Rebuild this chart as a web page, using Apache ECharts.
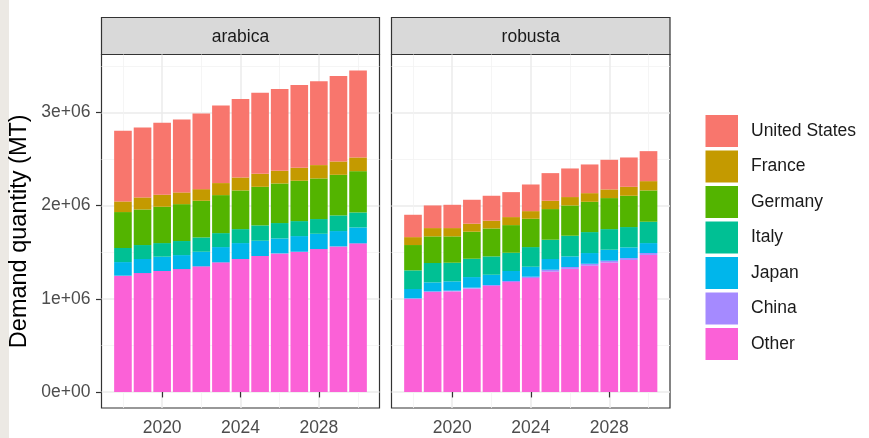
<!DOCTYPE html>
<html>
<head>
<meta charset="utf-8">
<script src="https://cdn.jsdelivr.net/npm/echarts@6/dist/echarts.min.js"></script>
<style>
html,body{margin:0;padding:0;background:#fff;}
#chart{width:869px;height:438px;}
</style>
</head>
<body>
<div id="chart"></div>
<script>
// ---- data (MT) ----
const years = [2018, 2019, 2020, 2021, 2022, 2023, 2024, 2025, 2026, 2027, 2028, 2029, 2030];
const facets = ['arabica', 'robusta'];
const countries = ['United States', 'France', 'Germany', 'Italy', 'Japan', 'China', 'Other']; // legend order
const stackOrder = ['Other', 'China', 'Japan', 'Italy', 'Germany', 'France', 'United States']; // bottom to top
const yTicks = [0, 1000000, 2000000, 3000000];
const yMinorTicks = [500000, 1500000, 2500000, 3500000];
const xTicks = [2020, 2024, 2028];
const xMinorTicks = [2018, 2022, 2026, 2030];

const arabicaUS      = [758000, 751000, 772000, 783000, 812000, 833000, 844000, 869000, 879000, 890000, 901000, 919000, 933000];
const arabicaFrance  = [114000, 129000, 129000, 126000, 125000, 129000, 139000, 140000, 136000, 139000, 143000, 143000, 147000];
const arabicaGermany = [386000, 382000, 390000, 396000, 393000, 408000, 415000, 414000, 425000, 433000, 436000, 436000, 443000];
const arabicaItaly   = [151000, 150000, 146000, 151000, 154000, 150000, 150000, 165000, 165000, 161000, 158000, 168000, 161000];
const arabicaJapan   = [146000, 151000, 154000, 150000, 157000, 164000, 171000, 164000, 161000, 168000, 164000, 165000, 171000];
const arabicaChina   = [0, 0, 0, 0, 0, 0, 0, 0, 0, 0, 0, 0, 0];
const arabicaOther   = [1248000, 1276000, 1298000, 1319000, 1348000, 1391000, 1427000, 1459000, 1487000, 1505000, 1534000, 1562000, 1595000];

const robustaUS      = [240000, 243000, 250000, 257000, 268000, 268000, 286000, 297000, 307000, 308000, 318000, 315000, 322000];
const robustaFrance  = [85000, 89000, 89000, 86000, 83000, 86000, 82000, 89000, 90000, 93000, 93000, 96000, 100000];
const robustaGermany = [272000, 286000, 283000, 290000, 300000, 297000, 304000, 329000, 325000, 325000, 333000, 336000, 336000];
const robustaItaly   = [200000, 208000, 200000, 197000, 197000, 196000, 211000, 207000, 222000, 225000, 221000, 218000, 229000];
const robustaJapan   = [100000, 96000, 100000, 114000, 110000, 107000, 107000, 115000, 114000, 115000, 118000, 115000, 107000];
const robustaChina   = [5000, 8000, 8000, 10000, 10000, 12000, 15000, 20000, 20000, 20000, 20000, 20000, 20000];
const robustaOther   = [1000000, 1072000, 1079000, 1109000, 1138000, 1179000, 1222000, 1292000, 1321000, 1356000, 1389000, 1417000, 1471000];

const colors = {
  'United States': '#F8766D', 'France': '#C49A00', 'Germany': '#53B400',
  'Italy': '#00C094', 'Japan': '#00B6EB', 'China': '#A58AFF', 'Other': '#FB61D7'
};
const values = [
  {'United States': arabicaUS, 'France': arabicaFrance, 'Germany': arabicaGermany, 'Italy': arabicaItaly, 'Japan': arabicaJapan, 'China': arabicaChina, 'Other': arabicaOther},
  {'United States': robustaUS, 'France': robustaFrance, 'Germany': robustaGermany, 'Italy': robustaItaly, 'Japan': robustaJapan, 'China': robustaChina, 'Other': robustaOther}
];

// ---- layout ----
const FONT = 'Liberation Sans, Arial, Helvetica, sans-serif';
const panels = [{left: 101.5, width: 278}, {left: 391.5, width: 278.5}];
const gridTop = 54.5, gridHeight = 353.5;
const xMin = 2016.905, xMax = 2031.095;
const yMin = -172500, yMax = 3622500;

const grids = [];
// panel grids (0,1): background, border, gridlines, labels
panels.forEach(p => grids.push({
  left: p.left, top: gridTop, width: p.width, height: gridHeight,
  show: true, backgroundColor: '#fff', borderColor: '#333', borderWidth: 1.2
}));
// bar grids (2,3): same value range, category band per year
panels.forEach(p => {
  const pxPerYear = p.width / (xMax - xMin);
  grids.push({
    left: p.left + (years[0] - 0.5 - xMin) * pxPerYear,
    width: years.length * pxPerYear,
    top: gridTop, height: gridHeight, show: false
  });
});

const xAxes = [], yAxes = [];
panels.forEach((p, i) => {
  xAxes.push({
    type: 'value', gridIndex: i, min: xMin, max: xMax,
    axisLine: {show: false},
    axisTick: {show: true, customValues: xTicks, length: 5.5, lineStyle: {color: '#333', width: 1.2}},
    axisLabel: {show: true, customValues: xTicks, margin: 11, fontSize: 17.5, color: '#4D4D4D', fontFamily: FONT, formatter: v => String(v)},
    splitLine: {show: true, lineStyle: {color: '#EBEBEB', width: 1.5}}
  });
  xAxes.push({
    type: 'value', gridIndex: i, min: xMin, max: xMax,
    axisLine: {show: false},
    axisTick: {show: false, customValues: xMinorTicks},
    axisLabel: {show: false, customValues: xMinorTicks},
    splitLine: {show: true, lineStyle: {color: '#F2F2F2', width: 0.8}}
  });
  yAxes.push({
    type: 'value', gridIndex: i, min: yMin, max: yMax,
    axisLine: {show: false},
    axisTick: {show: i === 0, customValues: yTicks, length: 5.5, lineStyle: {color: '#333', width: 1.2}},
    axisLabel: {show: i === 0, customValues: yTicks, margin: 11, fontSize: 17.5, color: '#4D4D4D', fontFamily: FONT,
      formatter: v => v === 0 ? '0e+00' : Math.round(v / 1e6) + 'e+06'},
    splitLine: {show: true, lineStyle: {color: '#EBEBEB', width: 1.5}},
    name: i === 0 ? 'Demand quantity (MT)' : '',
    nameLocation: 'middle', nameGap: 70,
    nameTextStyle: {fontSize: 23.5, color: '#000', fontFamily: FONT}
  });
  yAxes.push({
    type: 'value', gridIndex: i, min: yMin, max: yMax,
    axisLine: {show: false},
    axisTick: {show: false, customValues: yMinorTicks},
    axisLabel: {show: false, customValues: yMinorTicks},
    splitLine: {show: true, lineStyle: {color: '#F2F2F2', width: 0.8}}
  });
});
panels.forEach((p, i) => {
  xAxes.push({
    type: 'category', gridIndex: 2 + i, data: years.map(String), boundaryGap: true,
    axisLine: {show: false}, axisTick: {show: false}, axisLabel: {show: false}, splitLine: {show: false}
  });
  yAxes.push({
    type: 'value', gridIndex: 2 + i, min: yMin, max: yMax,
    axisLine: {show: false}, axisTick: {show: false}, axisLabel: {show: false}, splitLine: {show: false}
  });
});

const series = [];
facets.forEach((f, p) => {
  const pxPerYear = panels[p].width / (xMax - xMin);
  stackOrder.forEach(c => {
    series.push({
      type: 'bar', name: c, xAxisIndex: 4 + p, yAxisIndex: 4 + p,
      stack: 'facet' + p, barWidth: 0.9 * pxPerYear,
      itemStyle: {color: colors[c]},
      emphasis: {disabled: true},
      data: values[p][c]
    });
  });
});

const graphic = [
  {type: 'rect', shape: {x: 0, y: 0, width: 9, height: 438}, style: {fill: '#ECE9E4'}, silent: true, z: -10}
];
panels.forEach((p, i) => {
  graphic.push({type: 'rect', shape: {x: p.left, y: 17.5, width: p.width, height: gridTop - 17.5}, style: {fill: '#D9D9D9', stroke: '#333', lineWidth: 1.2}, silent: true});
  graphic.push({type: 'text', x: p.left + p.width / 2, y: (17.5 + gridTop) / 2 + 1, style: {text: facets[i], fill: '#1A1A1A', font: '17.5px ' + FONT, align: 'center', verticalAlign: 'middle'}, silent: true});
});

const chart = echarts.init(document.getElementById('chart'), null, {renderer: 'canvas'});
chart.setOption({
  animation: false,
  backgroundColor: '#fff',
  grid: grids,
  xAxis: xAxes,
  yAxis: yAxes,
  legend: {
    data: countries, orient: 'vertical', left: 705.5, top: 115, padding: 0,
    itemWidth: 32.5, itemHeight: 32, itemGap: 3.5, icon: 'rect',
    textStyle: {fontSize: 17.5, color: '#1A1A1A', fontFamily: FONT, padding: [0, 0, 0, 8]},
    selectedMode: false
  },
  series: series,
  graphic: graphic
});
</script>
</body>
</html>
